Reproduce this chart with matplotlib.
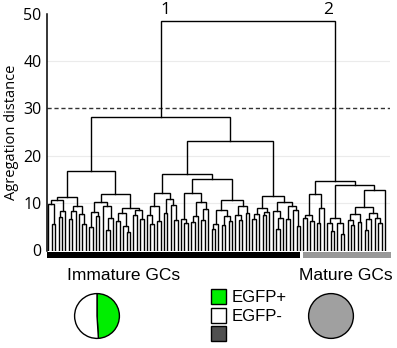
import numpy as np
import matplotlib.pyplot as plt
from matplotlib.patches import Rectangle

W, H = 397, 348

# dendrogram: a merge is [height, left, right], a leaf is 0
a1 = [11.3, [10.6, [9.8, 0, [5.5, 0, 0]], [8.4, [7.0, 0, 0], 0]],
            [9.4, [8.3, [6.6, 0, 0], 0], [7.6, 0, [5.6, 0, 0]]]]
a2 = [11.9, [10.3, [8.1, [5.0, 0, 0], [7.2, 0, 0]], [9.4, 0, [6.9, [4.4, 0, 0], 0]]],
            [9.0, [7.9, [6.2, 0, 0], [5.1, 0, [3.8, 0, 0]]], [8.5, [7.4, 0, 0], [6.6, 0, 0]]]]
b1l = [12.2, [9.4, [7.5, 0, [5.6, 0, 0]], [6.3, 0, 0]],
             [10.9, [8.0, 0, 0], [9.7, 0, [6.4, 0, 0]]]]
b1r = [15.0, [12.2, [6.6, 0, [5.8, 0, 0]],
                    [10.3, [7.3, [6.0, 0, 0], 0], [8.8, [6.5, 0, 0], 0]]],
             [10.6, [8.6, [5.6, [4.6, 0, 0], 0], [7.2, [5.4, 0, 0], [6.3, 0, 0]]],
                    [9.4, [7.5, 0, [6.4, 0, 0]], [8.0, 0, 0]]]]
b2 = [11.6, [8.9, [7.6, [6.7, 0, 0], 0], [8.2, [7.4, 0, 0], 0]],
            [10.3, [8.4, 0, [6.8, [4.5, 0, 0], 0]], [9.3, [6.7, 0, 0], [8.6, 0, [5.2, 0, 0]]]]]
ml = [12.0, [7.5, [6.9, 0, 0], [6.2, 0, 0]], [8.9, [5.9, 0, 0], 0]]
mr = [13.8, [6.8, [5.9, 0, [4.2, 0, 0]], [5.7, 0, [3.4, 0, 0]]],
            [12.7, [9.2, [7.7, [6.5, 0, [5.4, 0, 0]], [6.0, 0, 0]],
                         [7.9, [6.6, [4.3, 0, 0], 0], [6.9, 0, [5.7, 0, 0]]]], 0]]

immature = [28.1, [16.8, a1, a2], [23.1, [16.2, b1l, b1r], b2]]
mature = [14.7, ml, mr]
tree = [48.5, immature, mature]

cluster_labels = ['1', '2']
group_names = ['Immature GCs', 'Mature GCs']
group_colors = ['black', '#999999']
cut_height = 30

immature_egfp = [49, 51]    # EGFP+, EGFP-
mature_egfp = [100]
legend_labels = ['EGFP+', 'EGFP-', '']
legend_colors = ['#00ee00', 'white', '#505050']


def count_leaves(node):
    if node == 0:
        return 1
    return count_leaves(node[1]) + count_leaves(node[2])


def draw(ax, node, start):
    # returns x position, height, number of leaves used
    if node == 0:
        return start, 0.0, 1
    xl, hl, nl = draw(ax, node[1], start)
    xr, hr, nr = draw(ax, node[2], start + nl)
    h = node[0]
    if ax is not None:
        ax.plot([xl, xl, xr, xr], [hl, h, h, hr], color='black', lw=1.0,
                solid_joinstyle='miter')
    return (xl + xr) / 2, h, nl + nr


def px_axes(fig, x, y, w, h):
    return fig.add_axes([x / W, 1 - (y + h) / H, w / W, h / H])


fig = plt.figure(figsize=(W / 100, H / 100), dpi=100)
ax = px_axes(fig, 47, 13.5, 343, 237)

n = count_leaves(tree)
n_imm = count_leaves(immature)
draw(ax, tree, 0)
x_imm = draw(None, immature, 0)[0]
x_mat = draw(None, mature, n_imm)[0]

for g in [10, 20, 40]:
    ax.axhline(g, color='#ebebeb', lw=0.8, zorder=0)
ax.axhline(cut_height, color='#333333', lw=1.0, ls=(0, (3, 2)), zorder=0)

ax.set_xlim(-0.44, 100.47)
ax.set_ylim(0, 50)
for s in ['top', 'right', 'bottom']:
    ax.spines[s].set_visible(False)
ax.spines['left'].set_linewidth(1.1)
ax.set_xticks([])
ax.set_yticks([0, 10, 20, 30, 40, 50])
ax.tick_params(axis='y', length=0, pad=4, labelsize=11.5)
for t in ax.get_yticklabels():
    t.set_fontfamily('Open Sans')
ax.set_ylabel('Agregation distance', fontsize=10.5, family='Open Sans', labelpad=3)

# cluster numbers above the root
ax.annotate(cluster_labels[0], (x_imm, tree[0]), xytext=(0, 2), textcoords='offset points',
            ha='left', va='bottom', fontsize=12.5, family='Open Sans', annotation_clip=False)
ax.annotate(cluster_labels[1], (x_mat, tree[0]), xytext=(-1, 2), textcoords='offset points',
            ha='right', va='bottom', fontsize=12.5, family='Open Sans', annotation_clip=False)

# group bars under the leaves
trans = ax.get_xaxis_transform()
left = -0.44
ends = [n_imm - 1, n + 0.9]
for name, col, end in zip(group_names, group_colors, ends):
    ax.add_patch(Rectangle((left, -0.032), end - left, 0.026, transform=trans,
                           color=col, clip_on=False, lw=0))
    left = end + 1

fig.text(123.5 / W, 1 - 275 / H, group_names[0], ha='center', va='center',
         fontsize=12.5, family='Liberation Sans')
fig.text(345.5 / W, 1 - 275 / H, group_names[1], ha='center', va='center',
         fontsize=12.5, family='Liberation Sans')

# pies
pa = px_axes(fig, 69, 288, 56, 56)
pa.pie(immature_egfp, colors=legend_colors[:2], startangle=-86.4, counterclock=True,
       wedgeprops=dict(edgecolor='black', linewidth=1.0))
pa.set_aspect('equal')

pb = px_axes(fig, 303, 288, 56, 56)
pb.pie(mature_egfp, colors=['#a0a0a0'], wedgeprops=dict(edgecolor='black', linewidth=1.0))
pb.set_aspect('equal')

# legend squares
la = px_axes(fig, 0, 0, W, H)
la.set_xlim(0, W)
la.set_ylim(H, 0)
la.axis('off')
ys = [289, 308, 326]
for lab, col, y in zip(legend_labels, legend_colors, ys):
    la.add_patch(Rectangle((210.5, y), 15, 15, facecolor=col, edgecolor='black', lw=1.0))
    if lab:
        la.text(232, y + 8.5, lab, ha='left', va='center', fontsize=12, family='Liberation Sans')

fig.savefig('out.png', dpi=100)
